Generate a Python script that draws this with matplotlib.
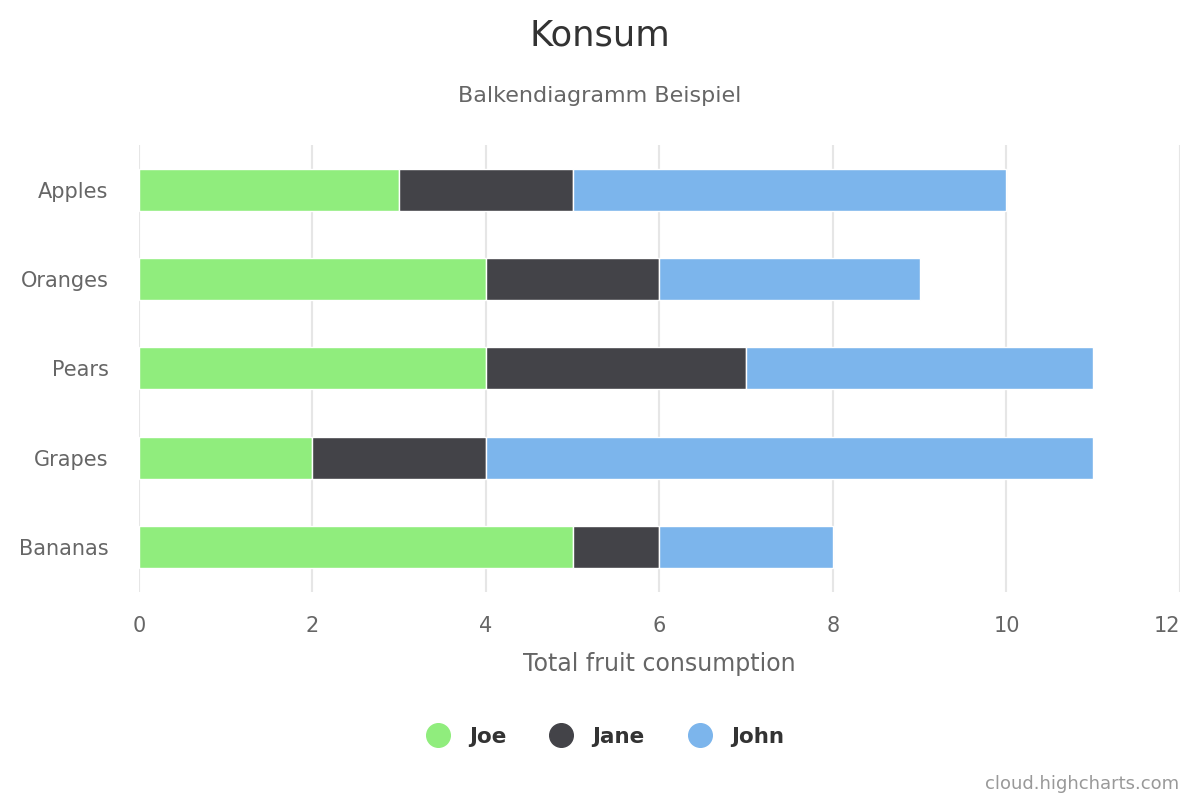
import matplotlib.pyplot as plt
from matplotlib.lines import Line2D

plt.rcParams['font.family'] = ['DejaVu Sans']

categories = ['Apples', 'Oranges', 'Pears', 'Grapes', 'Bananas']
joe = [3, 4, 4, 2, 5]
jane = [2, 2, 3, 2, 1]
john = [5, 3, 4, 7, 2]
series_names = ['Joe', 'Jane', 'John']
colors = ['#90ed7d', '#434348', '#7cb5ec']
xticks = [0, 2, 4, 6, 8, 10, 12]

fig = plt.figure(figsize=(12, 8), dpi=100)
ax = fig.add_axes([0.1158, 0.26, 0.8675, 0.559])

y = list(range(len(categories)))
left = [0] * len(categories)
for vals, c in zip([joe, jane, john], colors):
    ax.barh(y, vals, left=left, height=0.47, color=c, edgecolor='white', linewidth=1, zorder=3)
    left = [l + v for l, v in zip(left, vals)]

ax.set_xlim(0, 12)
ax.set_ylim(4.5, -0.5)
ax.set_xticks(xticks)
ax.set_yticks(y)
ax.set_yticklabels(categories)
ax.tick_params(axis='both', length=0, labelsize=15, colors='#666666')
ax.tick_params(axis='x', pad=17)
ax.tick_params(axis='y', pad=22)
# highcharts nudges the last label inside the chart
ax.get_xticklabels()[-1].set_horizontalalignment('right')
ax.grid(axis='x', color='#e6e6e6', linewidth=1.5, zorder=0)
for s in ax.spines.values():
    s.set_visible(False)
ax.set_xlabel('Total fruit consumption', fontsize=17, color='#666666', labelpad=12)

fig.text(0.5, 0.956, 'Konsum', ha='center', va='center', fontsize=25.5, color='#333333')
fig.text(0.5, 0.88, 'Balkendiagramm Beispiel', ha='center', va='center', fontsize=16, color='#666666')

handles = [Line2D([0], [0], marker='o', linestyle='none', markersize=17,
                  markerfacecolor=c, markeredgecolor=c) for c in colors]
leg = fig.legend(handles, series_names, loc='center', bbox_to_anchor=(0.5, 0.079), ncol=3,
                 frameon=False, fontsize=15.5, handletextpad=0.45, columnspacing=1.55)
for t in leg.get_texts():
    t.set_fontweight('bold')
    t.set_color('#333333')

fig.text(0.983, 0.02, 'cloud.highcharts.com', ha='right', va='center', fontsize=13, color='#999999')

fig.savefig('out.png', dpi=100)
